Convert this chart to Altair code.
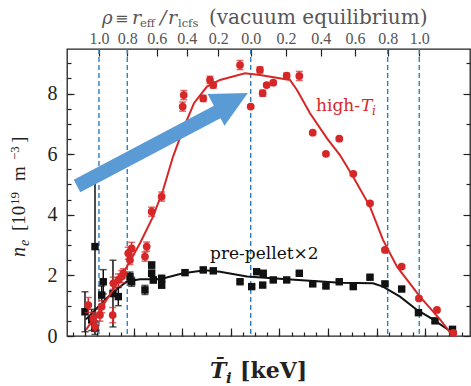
import altair as alt
import pandas as pd

# ---------------- data ----------------
# high-T_i profile (red): x = T_i-like coordinate, y = n_e
red_x = [0.534, 0.585, 0.603, 0.654, 0.672, 0.785, 0.791, 0.843, 0.878, 0.894,
         0.945, 0.963, 0.980, 1.117, 1.135, 1.186, 1.289, 1.505, 1.516, 1.717,
         1.786, 1.820, 2.095, 2.205, 2.300, 2.328, 2.369, 2.437, 2.575, 2.705,
         2.843, 2.979, 3.116, 3.260, 3.432, 3.586, 3.758, 3.936, 4.121, 4.289]
red_y = [1.02, 0.58, 0.31, 0.69, 0.97, 0.69, 1.74, 1.85, 1.96, 2.07,
         2.73, 2.51, 2.89, 2.62, 2.95, 4.10, 4.60, 7.57, 7.95, 7.84,
         8.45, 8.28, 8.94, 7.57, 8.78, 8.01, 8.28, 8.36, 8.59, 8.58,
         6.71, 6.01, 6.51, 5.35, 4.38, 2.84, 2.29, 1.24, 0.86, 0.10]
red_err = [0.25, 0.20, 0.15, 0.20, 0.20, 0.25, 0.20, 0.20, 0.20, 0.15,
           0.20, 0.15, 0.20, 0.15, 0.15, 0.15, 0.15, 0.15, 0.15, 0.10,
           0.12, 0.10, 0.15, 0.05, 0.10, 0.10, 0.05, 0.05, 0.08, 0.15,
           0.05, 0.05, 0.05, 0.05, 0.05, 0.05, 0.05, 0.05, 0.05, 0.05]

# pre-pellet x2 profile (black)
blk_x = [0.500, 0.569, 0.603, 0.603, 0.672, 0.688, 0.788, 0.843, 0.963, 0.980,
         1.117, 1.186, 1.186, 1.203, 1.289, 1.289, 1.529, 1.717, 1.820, 2.095,
         2.215, 2.266, 2.328, 2.334, 2.437, 2.575, 2.705, 2.843, 2.979, 3.116,
         3.260, 3.432, 3.586, 3.758, 3.931, 4.101, 4.281]
blk_y = [0.80, 0.53, 0.25, 2.95, 1.35, 1.79, 1.40, 1.30, 1.96, 1.79,
         1.52, 2.34, 2.07, 1.85, 1.90, 1.68, 2.09, 2.18, 2.15, 1.79,
         1.63, 2.12, 1.68, 2.07, 1.85, 1.85, 2.07, 1.72, 1.65, 1.79,
         1.63, 1.94, 1.72, 1.55, 0.77, 0.50, 0.22]
blk_err = [0.66, 0.35, 0.20, 2.45, 0.30, 0.40, 1.10, 0.30, 0.15, 0.15,
           0.15, 0.10, 0.10, 0.10, 0.10, 0.10, 0.08, 0.08, 0.08, 0.05,
           0.05, 0.05, 0.05, 0.05, 0.05, 0.05, 0.05, 0.05, 0.05, 0.05,
           0.05, 0.05, 0.05, 0.05, 0.05, 0.05, 0.05]

# fitted curves
redfit_x = [0.510, 0.654, 0.788, 0.932, 1.066, 1.200, 1.302, 1.406, 1.519, 1.621,
            1.755, 1.889, 2.146, 2.300, 2.609, 2.681, 2.815, 2.990, 3.123, 3.257,
            3.432, 3.566, 3.710, 3.946, 4.152, 4.286]
redfit_y = [0.20, 0.86, 1.52, 2.29, 3.06, 3.94, 4.80, 5.92, 6.90, 7.68,
            8.23, 8.45, 8.67, 8.61, 8.45, 8.12, 7.35, 6.52, 5.97, 5.26,
            4.27, 3.17, 2.29, 1.30, 0.55, 0.00]
blkfit_x = [0.510, 0.603, 0.706, 0.829, 0.932, 1.066, 1.272, 1.508, 1.735, 1.889,
            2.167, 2.578, 3.123, 3.463, 3.566, 3.741, 3.916, 4.080, 4.286]
blkfit_y = [0.55, 0.85, 1.20, 1.55, 1.80, 1.87, 1.87, 2.07, 2.17, 2.12,
            1.96, 1.87, 1.76, 1.74, 1.63, 1.30, 0.86, 0.55, 0.10]

# top axis: rho positions and labels
rho_pos = [0.644, 0.935, 1.238, 1.546, 1.871, 2.205, 2.568, 2.925, 3.278, 3.614, 3.939]
rho_lab = ["1.0", "0.8", "0.6", "0.4", "0.2", "0.0", "0.2", "0.4", "0.6", "0.8", "1.0"]
dashed_x = [0.644, 0.935, 2.205, 3.614, 3.939]

# arrow (data coordinates)
arrow_x = [0.418, 1.889]
arrow_y = [4.95, 7.44]
head_x = [2.012]
head_y = [7.74]

# axis ticks
x_major = [0.5, 1.0, 1.5, 2.0, 2.5, 3.0, 3.5, 4.0]
x_minor = [round(0.375 + 0.125 * k, 3) for k in range(33)]
y_major = [0, 2, 4, 6, 8]
y_minor_left = [0.5 * k for k in range(19)]
y_minor_right = [1, 3, 5, 7, 9]

# ---------------- styling ----------------
RED = "#d62728"
BLK = "#111111"
DASH = "#2f7fc1"
ARROW = "#5b9bd5"
TXT = "DejaVu Serif"
NUM = "Liberation Serif"
W, H = 403, 287
LEFT, TOP = 67, 49

XS = alt.Scale(domain=[0.315, 4.461], nice=False, zero=False)
YS = alt.Scale(domain=[0, 9.47], nice=False, zero=False)


def X(f):
    return alt.X(f, type="quantitative", scale=XS, axis=None)


def Y(f):
    return alt.Y(f, type="quantitative", scale=YS, axis=None)


red = pd.DataFrame({"x": red_x, "y": red_y, "e": red_err})
red["lo"] = red["y"] - red["e"]
red["hi"] = red["y"] + red["e"]
blk = pd.DataFrame({"x": blk_x, "y": blk_y, "e": blk_err})
blk["lo"] = blk["y"] - blk["e"]
blk["hi"] = blk["y"] + blk["e"]

layers = []

# dashed vertical lines (carry top axis)
label_expr = ("[" + ",".join(f"'{l}'" for l in rho_lab) + "][indexof(["
              + ",".join(str(p) for p in rho_pos) + "], datum.value)]")
layers.append(
    alt.Chart(pd.DataFrame({"x": dashed_x})).mark_rule(
        color=DASH, strokeDash=[5, 3], strokeWidth=1.4
    ).encode(
        x=alt.X("x:Q", scale=XS, axis=alt.Axis(
            orient="top", values=rho_pos, labelExpr=label_expr, tickSize=7,
            offset=-7, domain=False, grid=False, labelFont=NUM, labelFontSize=16,
            labelColor="#555", labelPadding=3, tickColor="#222", tickWidth=1.2,
            labelOverlap=False, labelFlush=False, title=None))
    )
)


def errlayers(df, color):
    base = alt.Chart(df)
    bar = base.mark_rule(color=color, strokeWidth=1.5).encode(x=X("x"), y=Y("lo"), y2="hi")
    cap_lo = base.mark_tick(color=color, orient="horizontal", size=7, thickness=1.5).encode(x=X("x"), y=Y("lo"))
    cap_hi = base.mark_tick(color=color, orient="horizontal", size=7, thickness=1.5).encode(x=X("x"), y=Y("hi"))
    return [bar, cap_lo, cap_hi]


layers += errlayers(blk, BLK)
layers.append(alt.Chart(pd.DataFrame({"x": blkfit_x, "y": blkfit_y})).mark_line(
    color=BLK, strokeWidth=2).encode(x=X("x"), y=Y("y")))
layers.append(alt.Chart(blk).mark_point(shape="square", filled=True, size=55, color=BLK, opacity=1).encode(
    x=X("x"), y=Y("y")))

layers += errlayers(red, RED)
layers.append(alt.Chart(pd.DataFrame({"x": redfit_x, "y": redfit_y})).mark_line(
    color=RED, strokeWidth=2).encode(x=X("x"), y=Y("y")))
layers.append(alt.Chart(red).mark_point(shape="circle", filled=True, size=60, color=RED, opacity=1).encode(
    x=X("x"), y=Y("y")))

# arrow
layers.append(alt.Chart(pd.DataFrame({"x": arrow_x, "y": arrow_y})).mark_line(
    color=ARROW, strokeWidth=14, strokeCap="butt").encode(x=X("x"), y=Y("y")))
layers.append(alt.Chart(pd.DataFrame({"x": head_x, "y": head_y})).mark_point(
    shape="M-1,-1L1,0L-1,1Z", filled=True, size=1296, angle=332, color=ARROW,
    opacity=1, strokeWidth=0).encode(x=X("x"), y=Y("y")))

dummy = pd.DataFrame({"a": [0]})


def txt(s, px, py, size, color="#222", font=TXT, style="normal", weight="normal", angle=0):
    kw = dict(text=s, align="left", baseline="alphabetic", fontSize=size, color=color,
              font=font, fontStyle=style, fontWeight=weight)
    if angle:
        kw["angle"] = angle
    return alt.Chart(dummy).mark_text(**kw).encode(
        x=alt.value(px - LEFT), y=alt.value(py - TOP))


# annotations
layers.append(txt("pre-pellet×2", 210, 259, 17, color=BLK))
layers.append(txt("high-", 316, 111, 17, color=RED))
layers.append(txt("T", 361, 111, 17, color=RED, style="italic"))
layers.append(txt("i", 372, 115, 12, color=RED, style="italic"))

# top title
G = "#555"
layers.append(txt("ρ", 102, 24, 18, color=G, style="italic"))
layers.append(txt("≡", 115, 24, 16, color=G))
layers.append(txt("r", 132, 24, 19, color=G, style="italic"))
layers.append(txt("eff", 140, 27, 11.5, color=G))
layers.append(txt("/", 160, 24, 19, color=G, style="italic"))
layers.append(txt("r", 168, 24, 19, color=G, style="italic"))
layers.append(txt("lcfs", 178, 27, 11.5, color=G))
layers.append(txt("(vacuum equilibrium)", 209, 24, 20, color=G))

# bottom title
layers.append(txt("T\u0304", 210, 378, 22, color="#222", style="italic", weight="bold"))
layers.append(txt("i", 226, 383, 15, color="#222", style="italic", weight="bold"))
layers.append(txt("[keV]", 240, 378, 22, color="#222", weight="bold"))

# y title (rotated)
layers.append(txt("n", 25, 257, 20, font=NUM, style="italic", angle=270))
layers.append(txt("e", 29, 246, 14, font=NUM, style="italic", angle=270))
layers.append(txt("[10", 25, 231, 19, font=NUM, angle=270))
layers.append(txt("19", 19, 205, 13, font=NUM, angle=270))
layers.append(txt("m", 25, 181, 19, font=NUM, angle=270))
layers.append(txt("−3", 19, 160, 13, font=NUM, angle=270))
layers.append(txt("]", 25, 143, 19, font=NUM, angle=270))


# axis layers (inward ticks through negative offsets)
def xaxis(vals, **kw):
    return alt.Chart(pd.DataFrame({"v": vals})).mark_rule(opacity=0).encode(
        x=alt.X("v:Q", scale=XS, axis=alt.Axis(values=vals, grid=False, domain=False,
                                               title=None, tickColor="#222", tickWidth=1.2, **kw)))


def yaxis(vals, **kw):
    return alt.Chart(pd.DataFrame({"v": vals})).mark_rule(opacity=0).encode(
        y=alt.Y("v:Q", scale=YS, axis=alt.Axis(values=vals, grid=False, domain=False,
                                               title=None, tickColor="#222", tickWidth=1.2, **kw)))


layers.append(xaxis(x_major, orient="bottom", tickSize=8, offset=-8, labels=False))
layers.append(xaxis(x_minor, orient="bottom", tickSize=4, offset=-4, labels=False))
layers.append(yaxis(y_major, orient="left", tickSize=7, offset=-7, labels=True,
                    labelFont=NUM, labelFontSize=20, labelColor="#222", labelPadding=10,
                    labelOverlap=False, labelFlush=False, format="d"))
layers.append(yaxis(y_minor_left, orient="left", tickSize=4, offset=-4, labels=False))
layers.append(yaxis(y_major, orient="right", tickSize=7, offset=-7, labels=False))
layers.append(yaxis(y_minor_right, orient="right", tickSize=4, offset=-4, labels=False))

chart = alt.layer(*layers).resolve_axis(x="independent", y="independent").properties(
    width=W, height=H,
    autosize=alt.AutoSizeParams(type="none"),
    padding={"left": LEFT, "top": TOP, "right": 1, "bottom": 50},
    background="white",
).configure_view(stroke="#222", strokeWidth=1.3)

chart.save("out.html", embed_options={"renderer": "svg", "actions": False})
